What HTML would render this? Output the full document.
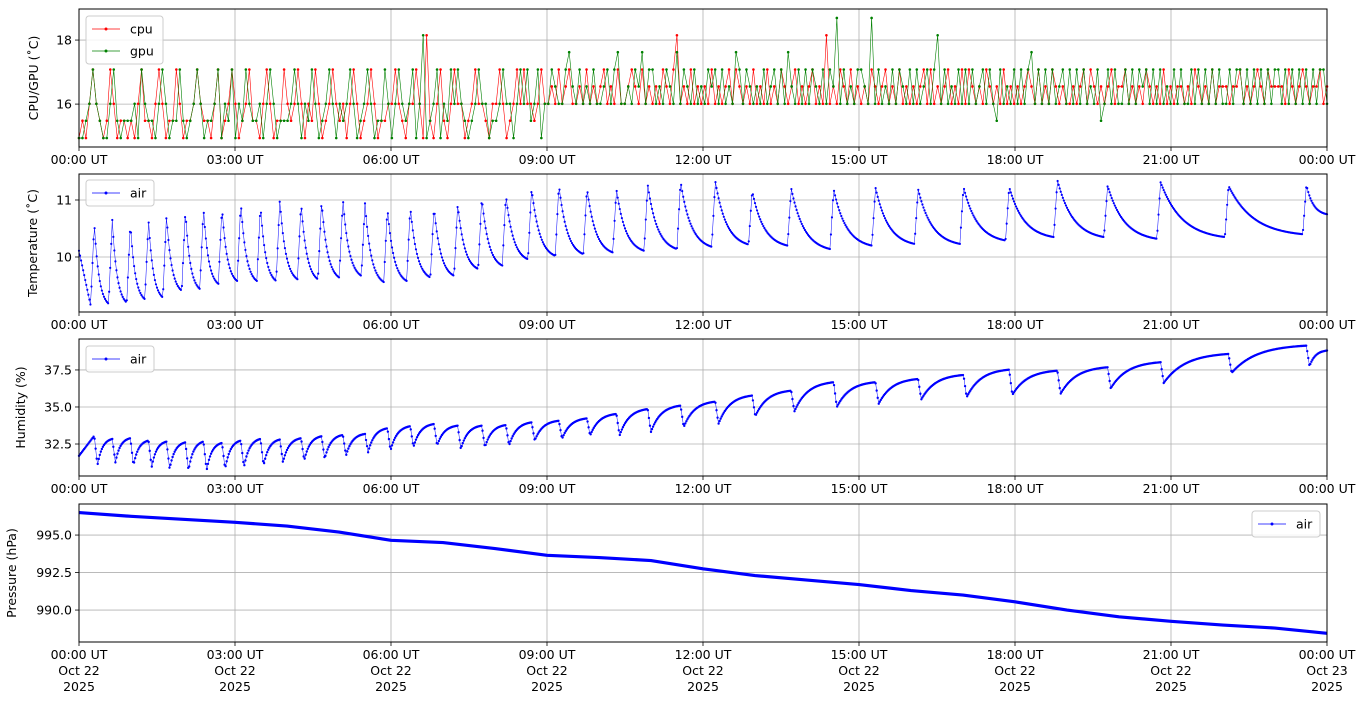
<!DOCTYPE html>
<html><head><meta charset="utf-8"><style>
html,body{margin:0;padding:0;background:#fff;}
svg{display:block;font-family:"DejaVu Sans","Liberation Sans",sans-serif;}
</style></head><body>
<svg id="c" width="1368" height="707" viewBox="0 0 1368 707" xmlns="http://www.w3.org/2000/svg"></svg>
<script>
// ---------- data ----------
const xTickLabels = ["00:00 UT","03:00 UT","06:00 UT","09:00 UT","12:00 UT","15:00 UT","18:00 UT","21:00 UT","00:00 UT"];
const xTickDates = ["Oct 22","Oct 22","Oct 22","Oct 22","Oct 22","Oct 22","Oct 22","Oct 22","Oct 23"];
const xTickHours = [0,3,6,9,12,15,18,21,24];
const cpuLevels = [14.94,15.48,16.01,16.55,17.08,17.62,18.15,18.69];
const cpuSeq = "010242101420110"+"102411024201142"+"011242110240124"+"201241102420114"+"212420214201242"+"120242012420112"+"242102242061024"+"102422012422102"+"242012424221242"+"232423422324232"+"342324223432423"+"232432462324232"+"324232342432324"+"232423243234232"+"342326232432423"+"232432342324232"+"323424232342324"+"243232432324232"+"323432423243232"+"232342432323423"+"342323243232423"+"233232432324233"+"323342323432433"+"332432343233423";
const gpuSeq = "001242100241011"+"120421102420114"+"101242011240214"+"021421120242011"+"124202142012420"+"212420124201142"+"024212402601240"+"214242101242201"+"124220242412402"+"243224532423242"+"234245223243524"+"423243252432423"+"243424232542432"+"324234242532424"+"243242437242324"+"432724232424324"+"242342462423242"+"424234242142324"+"242452424242342"+"424242324124242"+"242424342424232"+"424224242424242"+"242442424242424"+"424242424242442";
const cyclePeakHours = [0.294,0.640,0.988,1.337,1.683,2.046,2.394,2.750,3.112,3.490,3.862,4.271,4.665,5.075,5.500,5.931,6.371,6.827,7.283,7.746,8.210,8.704,9.229,9.769,10.335,10.937,11.569,12.237,12.946,13.696,14.513,15.317,16.137,17.010,17.888,18.815,19.781,20.800,22.106,23.604];
const tempPeaks = [10.60,10.65,10.60,10.65,10.74,10.82,10.86,10.88,10.96,10.91,11.01,10.96,10.99,11.02,10.94,10.86,10.88,10.88,10.93,11.05,11.09,11.21,11.27,11.21,11.19,11.27,11.33,11.33,11.16,11.21,11.19,11.22,11.19,11.23,11.23,11.35,11.25,11.31,11.25,11.27];
const tempTroughs = [9.15,9.18,9.20,9.26,9.29,9.41,9.44,9.53,9.58,9.58,9.58,9.61,9.61,9.64,9.67,9.56,9.58,9.64,9.67,9.79,9.85,9.96,10.02,10.05,10.08,10.11,10.14,10.18,10.22,10.20,10.14,10.20,10.23,10.23,10.29,10.35,10.35,10.32,10.35,10.40];
const tempStart = 10.11, tempEnd = 10.75;
const humHighs = [33.06,32.84,32.89,32.73,32.66,32.61,32.66,32.57,32.73,32.84,32.80,32.89,33.02,33.11,33.18,33.56,33.70,33.85,33.74,33.74,33.78,33.96,34.07,34.23,34.53,34.86,35.09,35.36,35.77,36.10,36.67,36.67,36.89,37.16,37.52,37.45,37.68,38.02,38.58,39.14];
const humLows = [31.04,31.26,31.04,30.92,30.81,30.70,30.70,30.81,30.92,31.04,31.26,31.38,31.49,31.71,31.94,32.05,32.28,32.39,32.16,32.28,32.39,32.73,32.84,33.06,33.06,33.29,33.63,33.85,34.37,34.68,34.98,35.20,35.50,35.65,35.81,35.88,36.26,36.62,37.30,37.75];
const humStart = 31.7, humEnd = 38.81;
const pressHours = [0,1,2,3,4,5,6,7,8,9,10,11,12,13,14,15,16,17,18,19,20,21,22,23,24];
const pressVals = [996.5,996.25,996.05,995.85,995.6,995.2,994.65,994.5,994.1,993.65,993.5,993.3,992.75,992.3,992.0,991.7,991.3,991.0,990.55,990.0,989.55,989.25,989.0,988.8,988.45];

// ---------- helpers ----------
const NS="http://www.w3.org/2000/svg";
const svg=document.getElementById('c');
function mk(tag,attrs,parent){const e=document.createElementNS(NS,tag);for(const k in attrs)e.setAttribute(k,attrs[k]);(parent||svg).appendChild(e);return e;}
const X0=79,X1=1327;
function xs(h){return X0+(X1-X0)*h/24;}
const panels=[
 {top:9,bot:147,ymin:14.66,ymax:18.97,ticks:[16,18],fmt:v=>String(v),label:"CPU/GPU (˚C)",lx:38,name:"cpu-gpu-panel"},
 {top:174,bot:312,ymin:9.035,ymax:11.456,ticks:[10,11],fmt:v=>String(v),label:"Temperature (˚C)",lx:37,name:"temperature-panel"},
 {top:339,bot:476,ymin:30.34,ymax:39.59,ticks:[32.5,35,37.5],fmt:v=>v.toFixed(1),label:"Humidity (%)",lx:25,name:"humidity-panel"},
 {top:504,bot:642,ymin:987.87,ymax:997.07,ticks:[990,992.5,995],fmt:v=>v.toFixed(1),label:"Pressure (hPa)",lx:16,name:"pressure-panel"}
];
function ysf(p){return v=>p.bot-(p.bot-p.top)*(v-p.ymin)/(p.ymax-p.ymin);}

panels.forEach((p,pi)=>{
  const g=mk('g',{});
  
  
  const y=ysf(p);
  const grid=mk('g',{},g);
  
  
  xTickHours.forEach((h,i)=>{
    const x=xs(h);
    mk('line',{x1:x,x2:x,y1:p.top,y2:p.bot,stroke:'#b0b0b0','stroke-width':0.8},grid);
    mk('line',{x1:x,x2:x,y1:p.bot,y2:p.bot+4,stroke:'#000','stroke-width':0.8},g);
    const t=mk('text',{x:x,y:p.bot+17,'font-size':12.5,'text-anchor':'middle',fill:'#000'},g);
    
    
    t.textContent=xTickLabels[i];
    if(pi===3){
      const t2=mk('text',{x:x,y:p.bot+33,'font-size':12.5,'text-anchor':'middle'},g);
      
      
      t2.textContent=xTickDates[i];
      const t3=mk('text',{x:x,y:p.bot+49,'font-size':12.5,'text-anchor':'middle'},g);
      
      
      t3.textContent="2025";
    }
  });
  p.ticks.forEach(v=>{
    const yy=y(v);
    mk('line',{x1:X0,x2:X1,y1:yy,y2:yy,stroke:'#b0b0b0','stroke-width':0.8},grid);
    mk('line',{x1:X0-4,x2:X0,y1:yy,y2:yy,stroke:'#000','stroke-width':0.8},g);
    const t=mk('text',{x:X0-7,y:yy+4.5,'font-size':12.5,'text-anchor':'end'},g);
    
    
    t.textContent=p.fmt(v);
  });
  const yl=mk('text',{x:p.lx,y:(p.top+p.bot)/2,'font-size':12.5,'text-anchor':'middle',transform:`rotate(-90 ${p.lx} ${(p.top+p.bot)/2})`},g);
  
  
  yl.textContent=p.label;
  p.g=g;p.y=y;
});

function series(p,pts,color,name,lw,r){
  const g=mk('g',{},p.g);
  
  
  const d=pts.map((q,i)=>(i?'L':'M')+xs(q[0]).toFixed(2)+','+p.y(q[1]).toFixed(2)).join('');
  mk('path',{d:d,fill:'none',stroke:color,'stroke-width':lw},g);
  const dots=pts.map(q=>{const cx=xs(q[0]),cy=p.y(q[1]);return `M${(cx-r).toFixed(2)},${cy.toFixed(2)}a${r},${r} 0 1,0 ${2*r},0a${r},${r} 0 1,0 ${-2*r},0`;}).join('');
  mk('path',{d:dots,fill:color,stroke:'none'},g);
}

// panel 1
function levelPts(seq){const n=seq.length;const a=[];for(let i=0;i<n;i++)a.push([i*24/(n-1),cpuLevels[+seq[i]]]);return a;}
series(panels[0],levelPts(cpuSeq),'#ff0000','cpu-series',0.6,1.3);
series(panels[0],levelPts(gpuSeq),'#008000','gpu-series',0.6,1.3);

// panel 2: temperature
(function(){
  const pts=[];const rise=0.07;const N=cyclePeakHours.length;
  const K=3,dec=u=>(Math.exp(-K*u)-Math.exp(-K))/(1-Math.exp(-K));
  for(let t=0;t<=24.0001;t+=1.2/60){
    let i=cyclePeakHours.findIndex(h=>h>t);
    let v;
    if(i===-1){const a=cyclePeakHours[N-1];const u=(t-a)/(24-a);v=tempEnd+(tempPeaks[N-1]-tempEnd)*dec(u);}
    else{
      const P=cyclePeakHours[i];
      if(t>=P-rise){v=tempTroughs[i]+(tempPeaks[i]-tempTroughs[i])*(t-(P-rise))/rise;}
      else{const a=i?cyclePeakHours[i-1]:0;const pv=i?tempPeaks[i-1]:tempStart;const u=(t-a)/(P-rise-a);v=tempTroughs[i]+(pv-tempTroughs[i])*(i?dec(u):(1-u));}
    }
    pts.push([t,v]);
  }
  series(panels[1],pts,'#0000ff','temperature-series',0.5,1.1);
})();

// panel 3: humidity
(function(){
  const pts=[];const drop=0.06;const N=cyclePeakHours.length;
  const K=3,gr=u=>(1-Math.exp(-K*u))/(1-Math.exp(-K));
  for(let t=0;t<=24.0001;t+=1.2/60){
    let i=-1;for(let j=0;j<N;j++)if(cyclePeakHours[j]<=t)i=j;
    let v;
    if(i===-1){const u=t/cyclePeakHours[0];v=humStart+(humHighs[0]-humStart)*u;}
    else{
      const P=cyclePeakHours[i];const nextT=i<N-1?cyclePeakHours[i+1]:24;const nextV=i<N-1?humHighs[i+1]:humEnd;
      if(t<P+drop){v=humHighs[i]+(humLows[i]-humHighs[i])*(t-P)/drop;}
      else{const u=(t-P-drop)/(nextT-P-drop);v=humLows[i]+(nextV-humLows[i])*gr(u);}
    }
    pts.push([t,v]);
  }
  series(panels[2],pts,'#0000ff','humidity-series',0.5,1.2);
})();

// panel 4: pressure
(function(){
  const p=panels[3];
  const g=mk('g',{},p.g);
  
  
  const d=pressHours.map((h,i)=>(i?'L':'M')+xs(h).toFixed(2)+','+p.y(pressVals[i]).toFixed(2)).join('');
  mk('path',{d:d,fill:'none',stroke:'#0000ff','stroke-width':3.2,'stroke-linejoin':'round'},g);
})();

// frames
panels.forEach(p=>{
  const f=mk('rect',{x:X0,y:p.top,width:X1-X0,height:p.bot-p.top,fill:'none',stroke:'#000','stroke-width':1},p.g);
  
  
});

// legends
function legend(x,y,w,entries){
  const g=mk('g',{});
  
  
  mk('rect',{x:x,y:y,width:w,height:entries.length*22+4,rx:3,fill:'#fff','fill-opacity':0.85,stroke:'#cccccc','stroke-width':1},g);
  entries.forEach((e,i)=>{
    const yy=y+13+i*22;
    const eg=mk('g',{},g);
    
    
    mk('line',{x1:x+6,x2:x+34,y1:yy,y2:yy,stroke:e[1],'stroke-width':0.7},eg);
    mk('circle',{cx:x+20,cy:yy,r:1.5,fill:e[1]},eg);
    const t=mk('text',{x:x+44,y:yy+4.5,'font-size':12.5},eg);
    t.textContent=e[0];
  });
}
legend(86,16,77,[['cpu','#ff0000'],['gpu','#008000']]);
legend(86,180,68,[['air','#0000ff']]);
legend(86,346,68,[['air','#0000ff']]);
legend(1252,511,68,[['air','#0000ff']]);
</script>
</body></html>
